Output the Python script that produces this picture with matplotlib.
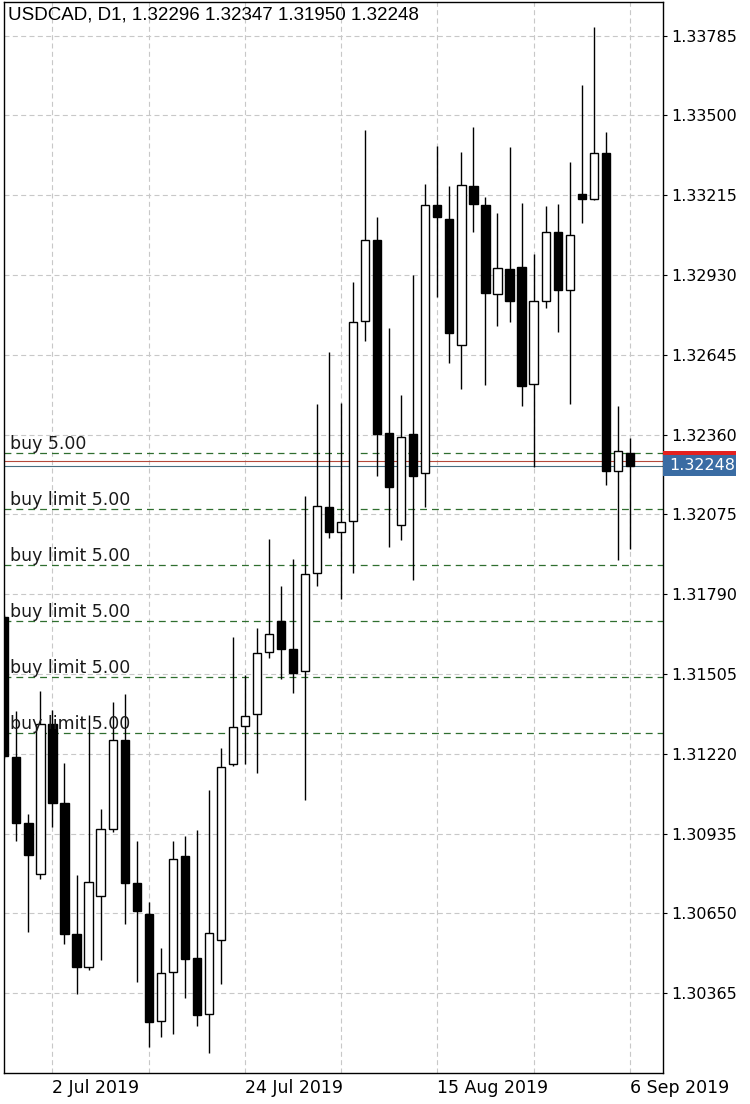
import numpy as np
import matplotlib
matplotlib.use("Agg")
import matplotlib.pyplot as plt
from matplotlib.patches import Rectangle
import matplotlib.transforms as mtransforms

# chart header
title = "USDCAD, D1, 1.32296 1.32347 1.31950 1.32248"

# daily OHLC, one entry per bar (26 Jun 2019 .. 6 Sep 2019)
opens = [1.31708, 1.31208, 1.30973, 1.30790, 1.31326, 1.31044, 1.30576, 1.30458, 1.30712, 1.30951,
         1.31269, 1.30758, 1.30648, 1.30265, 1.30440, 1.30855, 1.30490, 1.30290, 1.30555, 1.31183,
         1.31319, 1.31362, 1.31583, 1.31694, 1.31594, 1.31515, 1.31865, 1.32101, 1.32012, 1.32051,
         1.32765, 1.33055, 1.32365, 1.32037, 1.32362, 1.32223, 1.33180, 1.33130, 1.32680, 1.33248,
         1.33180, 1.32862, 1.32951, 1.32958, 1.32540, 1.32837, 1.33083, 1.32876, 1.33219, 1.33201,
         1.33365, 1.32230, 1.32296]
highs = [1.31715, 1.31373, 1.31005, 1.31444, 1.31376, 1.31187, 1.30787, 1.31358, 1.31023, 1.31405,
         1.31433, 1.30908, 1.30690, 1.30526, 1.30908, 1.30926, 1.30948, 1.31090, 1.31240, 1.31637,
         1.31501, 1.31669, 1.31987, 1.31819, 1.31915, 1.32140, 1.32469, 1.32655, 1.32473, 1.32905,
         1.33448, 1.33137, 1.32740, 1.32501, 1.32930, 1.33255, 1.33390, 1.33248, 1.33369, 1.33458,
         1.33208, 1.33151, 1.33387, 1.33187, 1.33005, 1.33176, 1.33183, 1.33333, 1.33608, 1.33815,
         1.33440, 1.32462, 1.32347]
lows = [1.31205, 1.30908, 1.30583, 1.30773, 1.30958, 1.30540, 1.30362, 1.30448, 1.30483, 1.30940,
        1.30612, 1.30405, 1.30173, 1.30208, 1.30219, 1.30348, 1.30248, 1.30151, 1.30398, 1.31176,
        1.31183, 1.31151, 1.31562, 1.31487, 1.31437, 1.31055, 1.31819, 1.31990, 1.31773, 1.31865,
        1.32694, 1.32212, 1.31958, 1.31983, 1.31840, 1.32101, 1.32851, 1.32615, 1.32523, 1.33083,
        1.32537, 1.32748, 1.32762, 1.32462, 1.32244, 1.32812, 1.32726, 1.32469, 1.33115, 1.33198,
        1.32180, 1.31912, 1.31950]
closes = [1.31212, 1.30973, 1.30858, 1.31326, 1.31044, 1.30576, 1.30458, 1.30762, 1.30951, 1.31269,
          1.30758, 1.30658, 1.30262, 1.30437, 1.30844, 1.30487, 1.30287, 1.30580, 1.31173, 1.31315,
          1.31355, 1.31580, 1.31648, 1.31594, 1.31508, 1.31862, 1.32105, 1.32012, 1.32048, 1.32762,
          1.33055, 1.32362, 1.32173, 1.32351, 1.32212, 1.33180, 1.33137, 1.32723, 1.33251, 1.33183,
          1.32865, 1.32955, 1.32837, 1.32533, 1.32837, 1.33083, 1.32876, 1.33073, 1.33201, 1.33365,
          1.32230, 1.32301, 1.32248]

# x axis: grid every 8 bars, dates on every other grid line
grid_idx = [4, 12, 20, 28, 36, 44, 52]
grid_labels = ["2 Jul 2019", "", "24 Jul 2019", "", "15 Aug 2019", "", "6 Sep 2019"]

# y axis
price_ticks = [1.30365, 1.30650, 1.30935, 1.31220, 1.31505, 1.31790, 1.32075,
               1.32360, 1.32645, 1.32930, 1.33215, 1.33500, 1.33785]

# pending orders
order_labels = ["buy 5.00", "buy limit 5.00", "buy limit 5.00", "buy limit 5.00",
                "buy limit 5.00", "buy limit 5.00"]
order_prices = [1.32293, 1.32093, 1.31893, 1.31693, 1.31493, 1.31293]

bid = 1.32248
ask = 1.32266

W, H = 750, 1104
fig = plt.figure(figsize=(W / 100, H / 100), dpi=100)
fig.patch.set_facecolor("white")
ax = fig.add_axes([4 / W, (H - 1073) / H, 659 / W, 1071 / H])

ax.set_xlim(-0.03, 54.76)
ax.set_ylim(1.30080, 1.33905)

# grid
for g in grid_idx:
    ax.axvline(g, color="#c8c8c8", lw=0.8, dashes=(4.5, 3), zorder=0)
for p in price_ticks:
    ax.axhline(p, color="#c8c8c8", lw=0.8, dashes=(4.5, 3), zorder=0)

# orders
for lab, p in zip(order_labels, order_prices):
    ax.axhline(p, color="#2f6e2f", lw=0.9, dashes=(5.5, 4), zorder=1)
    ax.annotate(lab, xy=(0.009, p), xycoords=("axes fraction", "data"),
                xytext=(0, 4), textcoords="offset pixels", va="baseline", ha="left",
                fontsize=12.5, color="#1a1a1a", family="DejaVu Sans", zorder=5)

ax.axhline(ask, color="#b5493a", lw=0.8, zorder=1)
ax.axhline(bid, color="#476e80", lw=0.8, zorder=1)

# candles
w = 0.68
for i in range(len(opens)):
    o, h, l, c = opens[i], highs[i], lows[i], closes[i]
    ax.vlines(i, l, h, color="black", lw=1.0, zorder=3)
    bottom = min(o, c)
    height = max(abs(c - o), 0.00003)
    face = "black" if c < o else "white"
    ax.add_patch(Rectangle((i - w / 2, bottom), w, height, facecolor=face,
                           edgecolor="black", lw=1.0, zorder=4))

# axes styling
for s in ax.spines.values():
    s.set_color("black")
    s.set_linewidth(1.0)
ax.yaxis.tick_right()
ax.set_yticks(price_ticks)
ax.set_yticklabels(["%.5f" % p for p in price_ticks])
ax.tick_params(axis="y", direction="out", length=3, width=0.8, pad=3,
               labelsize=11.5, labelcolor="black")
ax.set_xticks(grid_idx)
ax.set_xticklabels(grid_labels)
ax.tick_params(axis="x", length=0, pad=4, labelsize=12.5)
for t in ax.get_xticklabels():
    t.set_ha("left")
for t in ax.get_yticklabels() + ax.get_xticklabels():
    t.set_family("DejaVu Sans")

# bid / ask marker on the price scale
trans = mtransforms.blended_transform_factory(ax.transAxes, ax.transData)
px = 1.0 / 28000
ax.add_patch(Rectangle((1.0, bid - 10.5 * px), 73 / 659, 21 * px, transform=trans,
                       facecolor="#3a6ca3", edgecolor="none", clip_on=False, zorder=6))
ax.add_patch(Rectangle((1.0, bid + 11 * px), 73 / 659, 4 * px, transform=trans,
                       facecolor="#e3211f", edgecolor="none", clip_on=False, zorder=6))
ax.text(1.0 + 6 / 659, bid, "%.5f" % bid, transform=trans, color="white", fontsize=11.5,
        va="center", ha="left", family="DejaVu Sans", zorder=7, clip_on=False)

fig.text(8 / W, 1 - 15 / H, title, fontsize=13.5, va="center", ha="left",
         family=["Liberation Sans", "DejaVu Sans"], color="black")

fig.savefig("out.png", dpi=100)
